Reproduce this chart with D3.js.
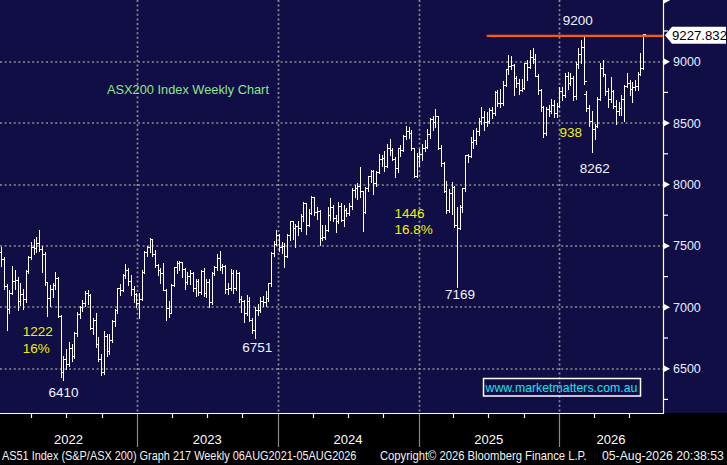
<!DOCTYPE html>
<html><head><meta charset="utf-8">
<script src="https://cdn.jsdelivr.net/npm/d3@7"></script>
<style>
html,body{margin:0;padding:0;background:#000;overflow:hidden;}
svg{display:block;}
text{font-family:"Liberation Sans",Arial,Helvetica,sans-serif;}
</style></head><body>
<svg id="c" width="727" height="465"></svg>
<script>
// ---------- DATA (weekly OHLC, week ending Friday, first bar 31-Dec-2021) ----------
const firstWeek = "2021-12-31";
const opens = [
7390,7445,7453,7393,7174,6988,7120,7217,7221,7049,
7111,7064,7295,7406,7493,7479,7523,7473,7435,7205,
7075,7146,7182,7238,6932,6475,6578,6539,6667,6606,
6791,6945,6999,7032,7115,7104,6828,6894,6700,6575,
6474,6763,6645,6736,6885,6979,7158,7139,7259,7301,
7214,7152,7106,7039,7069,7291,7452,7493,7559,7433,
7347,7307,7283,7144,6995,6955,7178,7325,7362,7366,
7309,7205,7256,7279,7154,7216,7123,7295,7118,7203,
7042,7281,7325,7403,7326,7340,7148,7158,7279,7156,
7279,7069,7048,6952,7051,6900,6812,6978,6977,7050,
7040,7073,7195,7442,7517,7590,7489,7498,7421,7590,
7699,7645,7659,7643,7745,7847,7670,7770,7897,7774,
7788,7567,7575,7629,7749,7814,7727,7702,7822,7709,
7796,7768,7823,7959,7971,7990,7943,7777,7971,8066,
8110,8013,8099,8209,8212,8150,8300,8283,8211,8133,
8295,8285,8393,8436,8420,8296,8067,8236,8250,8294,
8309,8409,8532,8511,8555,8296,8172,7948,7789,7932,
7982,7667,7646,7819,7968,8238,8231,8343,8361,8434,
8515,8548,8505,8514,8603,8580,8757,8666,8663,8807,
8938,8967,8973,8871,8826,8770,8788,8987,8958,9040,
9019,8882,8769,8634,8417,8614,8600,8650,8580,8640,
8760,8730,8880,8830,8870,8720,8980,9060,9120,8740,
8620,8520,8450,8480,8700,8950,8900,8760,8700,8760,
8640,8600,8620,8700,8800,8830,8780,8790,8800,8900,
8950];
const highs = [
7460,7540,7490,7410,7190,7140,7340,7300,7250,7200,
7150,7300,7420,7530,7560,7570,7632,7500,7450,7210,
7180,7200,7290,7250,6940,6600,6660,6720,6700,6800,
6960,7010,7060,7130,7140,7110,6910,6950,6760,6620,
6810,6780,6780,6900,6990,7160,7190,7270,7350,7320,
7260,7170,7120,7120,7300,7460,7500,7567,7560,7470,
7350,7320,7360,7150,7050,7190,7330,7375,7380,7370,
7320,7290,7300,7290,7230,7230,7300,7320,7230,7230,
7290,7340,7430,7460,7350,7345,7200,7310,7300,7300,
7290,7090,7060,7100,7080,6910,7000,7030,7080,7090,
7130,7200,7450,7540,7630,7600,7530,7520,7600,7700,
7700,7680,7700,7760,7860,7850,7800,7910,7900,7820,
7790,7670,7670,7820,7890,7830,7750,7860,7850,7830,
7810,7850,7970,8000,8010,8140,7950,7980,8070,8115,
8115,8110,8250,8240,8275,8330,8370,8300,8220,8300,
8320,8400,8480,8470,8440,8300,8260,8290,8330,8360,
8450,8540,8560,8615,8560,8320,8180,8030,7960,8020,
7990,7820,7830,7970,8240,8250,8390,8440,8460,8540,
8630,8600,8590,8620,8630,8760,8770,8780,8840,8940,
9055,9050,8980,8880,8860,8860,8990,9014,9095,9115,
9060,8900,8780,8640,8630,8650,8700,8690,8660,8790,
8790,8904,8918,8904,8880,9000,9110,9180,9200,8760,
8645,8600,8495,8713,8986,9014,8900,8782,8877,8770,
8686,8672,8727,8810,8904,8850,8836,8850,8918,9068,
9228];
const lows = [
7360,7390,7340,7150,6812,6950,7110,7150,6980,7020,
6990,7040,7280,7390,7430,7450,7460,7290,7180,6930,
7010,7080,7150,6920,6433,6410,6500,6520,6560,6590,
6770,6910,6970,7010,7030,6820,6780,6680,6560,6450,
6460,6600,6620,6720,6850,6950,7100,7130,7240,7180,
7100,7040,7000,6910,7060,7280,7420,7450,7420,7330,
7260,7200,7140,6898,6920,6950,7170,7280,7300,7250,
7150,7190,7190,7130,7090,7100,7110,7090,7080,7000,
7030,7260,7300,7300,7280,7120,7110,7140,7120,7140,
7040,6960,6880,6940,6890,6790,6751,6940,6960,7010,
7010,7050,7170,7420,7510,7460,7440,7330,7410,7550,
7560,7490,7590,7620,7700,7600,7660,7760,7750,7720,
7510,7550,7560,7620,7710,7700,7610,7690,7700,7660,
7740,7750,7800,7900,7880,7900,7620,7770,7950,8020,
7920,7990,8090,8150,8110,8140,8240,8200,8060,8100,
8230,8270,8370,8380,8280,8060,8060,8150,8200,8270,
8300,8380,8440,8470,8290,8150,7940,7770,7780,7760,
7650,7169,7640,7780,7950,8180,8220,8300,8330,8400,
8490,8440,8480,8500,8540,8570,8640,8630,8650,8800,
8900,8940,8730,8790,8740,8760,8780,8850,8945,8990,
8880,8740,8600,8385,8400,8560,8580,8550,8550,8630,
8690,8710,8780,8810,8690,8700,8950,8990,8820,8600,
8480,8262,8370,8470,8690,8880,8727,8631,8672,8620,
8495,8563,8563,8520,8790,8727,8672,8770,8768,8890,
8940];
const closes = [
7445,7453,7393,7174,6988,7120,7217,7221,7049,7111,
7064,7295,7406,7493,7479,7523,7473,7435,7205,7075,
7146,7182,7238,6932,6475,6578,6539,6667,6606,6791,
6945,6999,7032,7115,7104,6828,6894,6700,6575,6474,
6763,6645,6736,6885,6979,7158,7139,7259,7301,7214,
7152,7106,7039,7069,7291,7452,7493,7559,7433,7347,
7307,7283,7144,6995,6955,7178,7325,7362,7366,7309,
7205,7256,7279,7154,7216,7123,7295,7118,7203,7042,
7281,7325,7403,7326,7340,7148,7158,7279,7156,7279,
7069,7048,6952,7051,6900,6812,6978,6977,7050,7040,
7073,7195,7442,7517,7590,7489,7498,7421,7590,7699,
7645,7659,7643,7745,7847,7670,7770,7897,7774,7788,
7567,7575,7629,7749,7814,7727,7702,7822,7709,7796,
7768,7823,7959,7971,7990,7943,7777,7971,8066,8110,
8013,8099,8209,8212,8150,8300,8283,8211,8133,8295,
8285,8393,8436,8420,8296,8067,8236,8250,8294,8309,
8409,8532,8511,8555,8296,8172,7948,7789,7932,7982,
7667,7646,7819,7968,8238,8231,8343,8361,8434,8515,
8548,8505,8514,8603,8580,8757,8666,8663,8807,8938,
8967,8973,8871,8826,8770,8788,8987,8958,9040,9019,
8882,8769,8634,8417,8614,8600,8650,8580,8640,8760,
8730,8880,8830,8870,8720,8980,9060,9120,8840,8620,
8520,8450,8480,8700,8950,8900,8760,8700,8760,8640,
8600,8620,8700,8800,8830,8780,8790,8800,8900,8950,
9227.832];

const gridValues = [6500,7000,7500,8000,8500,9000];
const yTickValues = [6500,7000,7500,8000,8500,9000,9500];
const yLabelValues = [6500,7000,7500,8000,8500,9000];
const yMinorValues = [6250,6750,7250,7750,8250,8750,9250];
const yearLabels = [2022,2023,2024,2025,2026];
const lastPrice = 9227.832;
const lastPriceLabel = "9227.832";
const resistanceLevel = 9210;
const resistanceFrom = "2025-06-27";
const chartTitle = "ASX200 Index Weekly Chart";
const watermark = "www.marketmatters.com.au";
const footerLeft = "AS51 Index (S&P/ASX 200) Graph 217 Weekly 06AUG2021-05AUG2026";
const footerMid = "Copyright\u00A9 2026 Bloomberg Finance L.P.";
const footerRight = "05-Aug-2026 20:38:53";
// annotations anchored to a bar (week index) and one of its prices, with pixel offsets
const notes = [
  {text:"9200",  week:218, price:"high", dx:-6,  dy:-12,  color:"#f0f4ff", anchor:"middle"},
  {text:"938",   week:221, price:"low",  dx:-21, dy:-15,  color:"#f0f000", anchor:"middle"},
  {text:"8262",  week:221, price:"low",  dx:3,   dy:21,   color:"#f0f4ff", anchor:"middle"},
  {text:"7169",  week:171, price:"low",  dx:3,   dy:12,   color:"#f0f4ff", anchor:"middle"},
  {text:"6751",  week:96,  price:"low",  dx:2.5, dy:14,   color:"#f0f4ff", anchor:"middle"},
  {text:"6410",  week:25,  price:"low",  dx:0,   dy:17,   color:"#f0f4ff", anchor:"middle"},
  {text:"1222",  week:25,  price:"low",  dx:-40.7, dy:-43.3, color:"#f0f000", anchor:"start"},
  {text:"16%",   week:25,  price:"low",  dx:-40.7, dy:-26.5, color:"#f0f000", anchor:"start"},
  {text:"1446",  week:163, price:"high", dx:-41, dy:109.3, color:"#f0f000", anchor:"start"},
  {text:"16.8%", week:163, price:"high", dx:-41, dy:125,   color:"#f0f000", anchor:"start"}
];

// ---------- LAYOUT ----------
const W = 727, H = 465, PR = 663, PB = 413;
const NAVY = "#110d45";
const parse = d3.utcParse("%Y-%m-%d");
const start = parse(firstWeek);
const weeks = closes.map((_, i) => d3.utcDay.offset(start, 7 * i));

const x = d3.scaleUtc()
  .domain([parse("2022-01-01"), parse("2026-01-01")])
  .range([-3.6, 559.1]);
const y = d3.scaleLinear().domain([6500, 9000]).range([368.7, 61.7]);

const svg = d3.select("#c");
svg.append("rect").attr("width", W).attr("height", H).attr("fill", "#000");
svg.append("rect").attr("width", W).attr("height", PB).attr("fill", NAVY);
svg.append("defs").append("clipPath").attr("id", "plot")
  .append("rect").attr("width", PR).attr("height", PB);

// gridlines
const yearStarts = yearLabels.slice(1).map(yr => new Date(Date.UTC(yr, 0, 1)));
const grid = svg.append("g")
  .attr("stroke", "#8f8f8f").attr("stroke-width", 1.7)
  .attr("stroke-dasharray", "2,2.6").attr("fill", "none");
grid.selectAll("line.h").data(gridValues).join("line").attr("class", "h")
  .attr("x1", 0).attr("x2", PR)
  .attr("y1", d => Math.round(y(d))).attr("y2", d => Math.round(y(d)));
grid.selectAll("line.v").data(yearStarts).join("line").attr("class", "v")
  .attr("x1", d => Math.round(x(d)) + 0.5).attr("x2", d => Math.round(x(d)) + 0.5)
  .attr("y1", 0).attr("y2", PB);

// OHLC bars
const bars = svg.append("g").attr("clip-path", "url(#plot)")
  .attr("stroke", "#ffffff").attr("stroke-width", 1.1).attr("fill", "none")
  .attr("shape-rendering", "crispEdges");
bars.selectAll("path").data(d3.range(closes.length)).join("path")
  .attr("d", i => {
    const cx = Math.round(x(weeks[i])) + 0.5;
    const yo = Math.round(y(opens[i])) + 0.5, yc = Math.round(y(closes[i])) + 0.5;
    return `M${cx},${Math.round(y(highs[i]))}V${Math.round(y(lows[i])) + 1}` +
           `M${cx - 2.5},${yo}H${cx}M${cx},${yc}H${cx + 2.5}`;
  });

// resistance line
svg.append("line")
  .attr("x1", x(parse(resistanceFrom))).attr("x2", PR)
  .attr("y1", y(resistanceLevel)).attr("y2", y(resistanceLevel))
  .attr("stroke", "#ff5a08").attr("stroke-width", 2.4);

// axes lines
svg.append("line").attr("x1", PR + 0.5).attr("x2", PR + 0.5).attr("y1", 0).attr("y2", PB + 1)
  .attr("stroke", "#ffffff").attr("stroke-width", 1.2);
svg.append("line").attr("x1", 0).attr("x2", PR + 1).attr("y1", PB + 0.5).attr("y2", PB + 0.5)
  .attr("stroke", "#ffffff").attr("stroke-width", 1.2);

// y tick markers, minor ticks and labels
svg.append("g").attr("fill", "#ffffff").selectAll("path").data(yTickValues).join("path")
  .attr("d", d => { const yy = y(d); return `M${PR + 1},${yy - 3.2}L${PR + 7},${yy}L${PR + 1},${yy + 3.2}Z`; });
svg.append("g").attr("stroke", "#ffffff").attr("stroke-width", 1.2).selectAll("line").data(yMinorValues).join("line")
  .attr("x1", PR).attr("x2", PR + 5).attr("y1", d => y(d)).attr("y2", d => y(d));
svg.append("g").selectAll("text").data(yLabelValues).join("text")
  .attr("x", 673).attr("y", d => y(d) + 4.5)
  .attr("fill", "#e6ecff").attr("font-size", 12.5).text(d => d);

// last price label
const ly = y(lastPrice) + 1.5;
svg.append("path")
  .attr("d", `M${PR + 2},${ly}L${PR + 9},${ly - 8.5}H726V${ly + 8.5}H${PR + 9}Z`)
  .attr("fill", "#ffffff");
svg.append("text").attr("x", 672).attr("y", ly + 5).attr("fill", "#000")
  .attr("font-size", 13.2).text(lastPriceLabel);

// bottom band: year separators, quarter ticks, labels
svg.append("g").attr("stroke", "#8a8a8a").attr("stroke-width", 1.2).selectAll("line").data(yearStarts).join("line")
  .attr("x1", d => Math.round(x(d)) + 0.5).attr("x2", d => Math.round(x(d)) + 0.5)
  .attr("y1", PB + 1).attr("y2", 447);
const quarters = d3.utcMonth.every(3).range(parse("2022-01-01"), parse("2026-08-31"))
  .filter(d => d.getUTCMonth() !== 0 && x(d) > 0 && x(d) < PR);
svg.append("g").attr("stroke", "#ffffff").attr("stroke-width", 1.2).selectAll("line").data(quarters).join("line")
  .attr("x1", d => Math.round(x(d)) + 0.5).attr("x2", d => Math.round(x(d)) + 0.5)
  .attr("y1", PB + 1).attr("y2", PB + 5);
const bounds = [0, ...yearStarts.map(d => x(d)), PR];
svg.append("g").selectAll("text").data(yearLabels).join("text")
  .attr("x", (d, i) => (bounds[i] + bounds[i + 1]) / 2).attr("y", 444)
  .attr("text-anchor", "middle").attr("fill", "#ffffff").attr("font-size", 13).text(d => d);

// annotations
svg.append("g").selectAll("text").data(notes).join("text")
  .attr("x", d => x(weeks[d.week]) + d.dx)
  .attr("y", d => y(d.price === "high" ? highs[d.week] : lows[d.week]) + d.dy)
  .attr("text-anchor", d => d.anchor)
  .attr("fill", d => d.color).attr("font-size", 13.5).text(d => d.text);

// title
svg.append("text").attr("x", 107).attr("y", 93.5).attr("fill", "#8ce68c")
  .attr("font-size", 12.8).text(chartTitle);

// helper: horizontally squeeze a text so it spans exactly `w` pixels
function fitText(parent, str, x0, y0, w, size, color) {
  const g = parent.append("g");
  const t = g.append("text").attr("x", 0).attr("y", 0).attr("fill", color)
    .attr("font-size", size).text(str);
  const natural = t.node().getComputedTextLength() || w;
  g.attr("transform", `translate(${x0},${y0}) scale(${w / natural},1)`);
  return g;
}

// watermark
svg.append("rect").attr("x", 483.5).attr("y", 378.5).attr("width", 157).attr("height", 17.5)
  .attr("fill", "none").attr("stroke", "#ffffff").attr("stroke-width", 1.5);
fitText(svg, watermark, 485.5, 392, 152, 13, "#19e3ea");

// footer
const footerRow = svg.append("g");
fitText(footerRow, footerLeft, 2, 460, 355, 12.5, "#f2f2f2");
fitText(footerRow, footerMid, 380, 460, 207, 12.5, "#f2f2f2");
fitText(footerRow, footerRight, 602, 460, 122, 12.5, "#f2f2f2");
</script>
</body></html>
